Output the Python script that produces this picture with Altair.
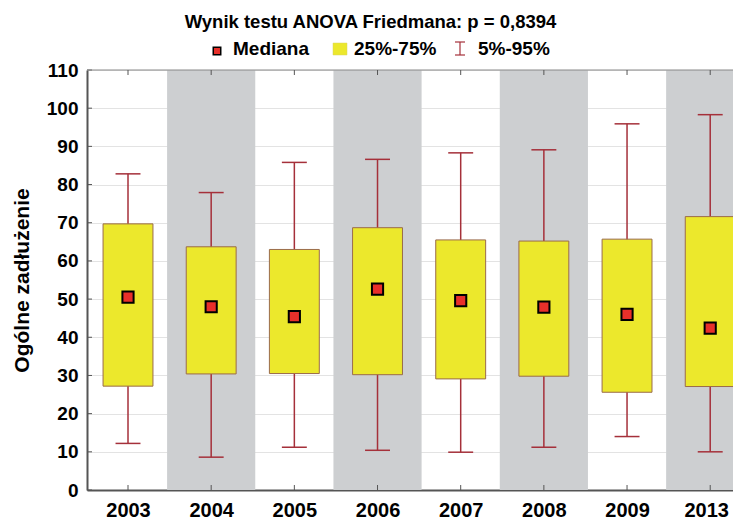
import altair as alt
import pandas as pd

years = ["2003", "2004", "2005", "2006", "2007", "2008", "2009", "2013"]
p95 = [82.8, 77.9, 85.8, 86.6, 88.3, 89.1, 95.9, 98.3]
q3 = [69.7, 63.7, 63.0, 68.7, 65.5, 65.2, 65.7, 71.6]
median = [50.5, 48.0, 45.4, 52.6, 49.6, 47.9, 46.0, 42.4]
q1 = [27.2, 30.4, 30.5, 30.2, 29.1, 29.8, 25.6, 27.1]
p5 = [12.2, 8.6, 11.2, 10.4, 9.9, 11.2, 14.0, 10.0]
y_ticks = [0, 10, 20, 30, 40, 50, 60, 70, 80, 90, 100, 110]

FONT = "Liberation Sans"
W, H = 646, 420

df = pd.DataFrame({
    "year": years,
    "idx": list(range(len(years))),
    "p95": p95, "q3": q3, "median": median, "q1": q1, "p5": p5,
})

xs = alt.Scale(domain=[-0.493, 7.274], nice=False, zero=False)
ys = alt.Scale(domain=[0, 110], nice=False)

label_expr = "[" + ",".join(f"'{y}'" for y in years) + "][datum.value]"
last = len(years) - 1

XAX = alt.Axis(
    values=list(range(len(years))), labelExpr=label_expr, title=None,
    grid=False, ticks=False, labelFontSize=20, labelFont=FONT,
    labelFontWeight="bold", labelColor="black", labelPadding=10,
    labelFlush=False, labelBound=False,
    labelOffset={"condition": {"test": f"datum.value == {last}", "value": -4},
                 "value": 0},
    domainColor="#555555", domainWidth=2)
YAX = alt.Axis(
    values=y_ticks, title="Ogólne zadłużenie", titleFontSize=21,
    titleFont=FONT, titleFontWeight="bold", titleColor="black",
    titlePadding=14, grid=True, gridColor="#e3e3e3", gridWidth=1,
    ticks=False, labelFontSize=19, labelFont=FONT, labelFontWeight="bold",
    labelColor="black", labelPadding=9, labelOverlap=False, labelFlush=False,
    domainColor="#555555", domainWidth=2)


def X(f):
    return alt.X(f, scale=xs, axis=XAX, title=None)


def Y(f):
    return alt.Y(f, scale=ys, axis=YAX, title="Ogólne zadłużenie")


base = alt.Chart(df)
tick_df = pd.DataFrame({"t": y_ticks})

bands = base.transform_filter("datum.idx % 2 == 1").transform_calculate(
    lo="datum.idx - 0.53", hi="datum.idx + 0.53"
).mark_rect(color="#cdcfd1", clip=True).encode(
    x=X("lo:Q"), x2="hi:Q", y=alt.value(0), y2=alt.value(H),
)

inner_yticks = alt.Chart(tick_df).mark_rule(
    color="#555555", strokeWidth=1).encode(
    y=Y("t:Q"), x=alt.value(0), x2=alt.value(5))

top_border = alt.Chart(pd.DataFrame({"a": [0]})).mark_rule(
    color="#888888", strokeWidth=1).encode(
    x=alt.value(0), x2=alt.value(W), y=alt.value(0))

xticks_bottom = base.mark_rule(color="#555555", strokeWidth=1).encode(
    x=X("idx:Q"), y=alt.value(H), y2=alt.value(H - 5))
xticks_top = base.mark_rule(color="#555555", strokeWidth=1).encode(
    x=X("idx:Q"), y=alt.value(0), y2=alt.value(5))

whisker = base.mark_rule(color="#a5303a", strokeWidth=1.5).encode(
    x=X("idx:Q"), y=Y("p5:Q"), y2="p95:Q")

caps_top = base.transform_calculate(
    lo="datum.idx - 0.15", hi="datum.idx + 0.15"
).mark_rule(color="#a5303a", strokeWidth=1.5).encode(
    x=X("lo:Q"), x2="hi:Q", y=Y("p95:Q"))
caps_bot = base.transform_calculate(
    lo="datum.idx - 0.15", hi="datum.idx + 0.15"
).mark_rule(color="#a5303a", strokeWidth=1.5).encode(
    x=X("lo:Q"), x2="hi:Q", y=Y("p5:Q"))

boxes = base.transform_calculate(
    lo="datum.idx - 0.3", hi="datum.idx + 0.3"
).mark_rect(color="#ece82c", stroke="#9a6b4b", strokeWidth=1).encode(
    x=X("lo:Q"), x2="hi:Q", y=Y("q1:Q"), y2="q3:Q")

med = base.mark_square(size=125, color="#e8302a", stroke="black",
                       strokeWidth=2, opacity=1, filled=True).encode(
    x=X("idx:Q"), y=Y("median:Q"))

one = alt.Chart(pd.DataFrame({"a": [0]}))

title = one.mark_text(text="Wynik testu ANOVA Friedmana: p = 0,8394",
                      font=FONT, fontSize=18.5, fontWeight="bold", color="black",
                      align="center", baseline="alphabetic").encode(
    x=alt.value(283.5), y=alt.value(-42))

leg_sq = one.mark_square(size=56, color="#e8302a", stroke="black",
                         strokeWidth=1.5, filled=True, opacity=1).encode(
    x=alt.value(130), y=alt.value(-19))
leg_t1 = one.mark_text(text="Mediana", font=FONT, fontSize=19,
                       fontWeight="bold", color="black", align="left",
                       baseline="alphabetic").encode(
    x=alt.value(146), y=alt.value(-15))
leg_box = one.mark_rect(color="#ece82c", stroke="#d8d460", strokeWidth=0.5).encode(
    x=alt.value(246), x2=alt.value(260), y=alt.value(-27), y2=alt.value(-15))
leg_t2 = one.mark_text(text="25%-75%", font=FONT, fontSize=19,
                       fontWeight="bold", color="black", align="left",
                       baseline="alphabetic").encode(
    x=alt.value(267), y=alt.value(-15))
leg_w = one.mark_rule(color="#a5303a", strokeWidth=1.2).encode(
    x=alt.value(373), y=alt.value(-28), y2=alt.value(-15))
leg_wt = one.mark_rule(color="#a5303a", strokeWidth=1.2).encode(
    x=alt.value(368), x2=alt.value(378), y=alt.value(-28))
leg_wb = one.mark_rule(color="#a5303a", strokeWidth=1.2).encode(
    x=alt.value(368), x2=alt.value(378), y=alt.value(-15))
leg_t3 = one.mark_text(text="5%-95%", font=FONT, fontSize=19,
                       fontWeight="bold", color="black", align="left",
                       baseline="alphabetic").encode(
    x=alt.value(391), y=alt.value(-15))

chart = alt.layer(
    bands, inner_yticks, top_border, xticks_bottom, xticks_top,
    whisker, caps_top, caps_bot, boxes, med,
    title, leg_sq, leg_t1, leg_box, leg_t2, leg_w, leg_wt, leg_wb, leg_t3,
).properties(
    width=W, height=H,
    autosize=alt.AutoSizeParams(type="none"),
    padding={"left": 79, "top": 62, "right": 0, "bottom": 29},
).configure_view(stroke=None).configure(background="white")

chart.save("out.html", embed_options={"renderer": "svg", "actions": False})
